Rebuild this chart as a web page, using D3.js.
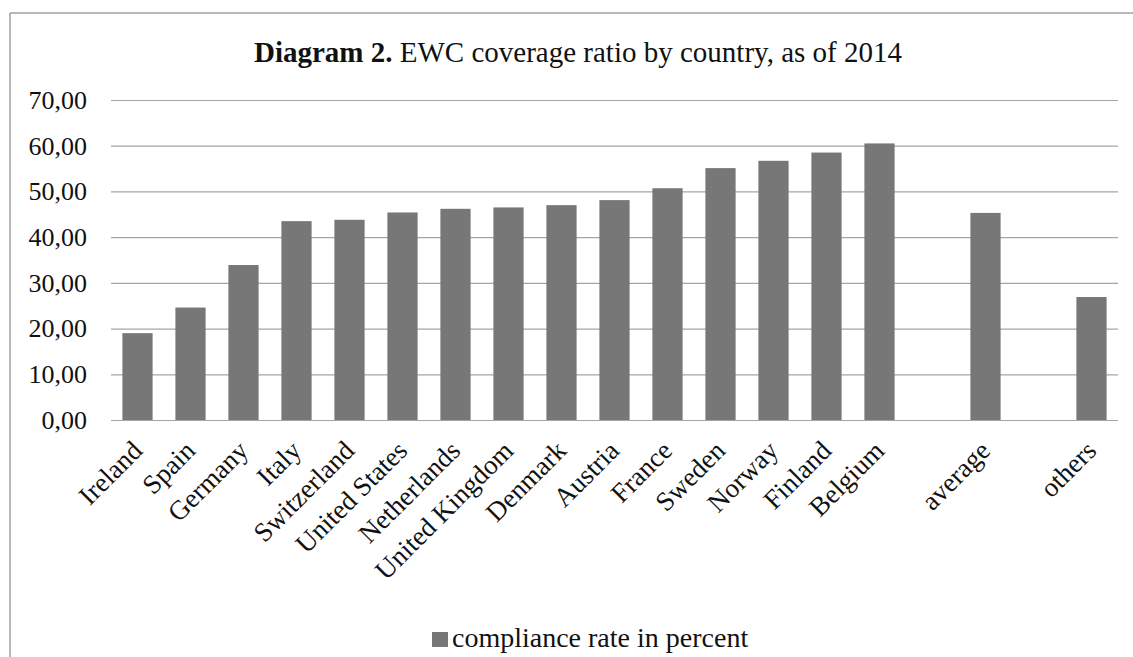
<!DOCTYPE html>
<html>
<head>
<meta charset="utf-8">
<script src="https://cdn.jsdelivr.net/npm/d3@7"></script>
<style>
  body { margin: 0; background: #fff; }
  text { font-family: "Liberation Serif", "Times New Roman", serif; fill: #111; }
</style>
</head>
<body>
<div id="chart"></div>
<script>
// data ("" = empty gap category)
var categories = ["Ireland", "Spain", "Germany", "Italy", "Switzerland", "United States",
  "Netherlands", "United Kingdom", "Denmark", "Austria", "France", "Sweden", "Norway",
  "Finland", "Belgium", "", "average", "", "others"];
var values = [19.0, 24.6, 33.9, 43.5, 43.8, 45.4, 46.2, 46.5, 47.0, 48.1, 50.7, 55.1,
  56.7, 58.5, 60.5, null, 45.3, null, 26.9];
var yTicks = [0, 10, 20, 30, 40, 50, 60, 70];
var seriesName = "compliance rate in percent";

var W = 1133, H = 657;
var margin = {top: 100, right: 15, bottom: 237, left: 111};
var width = W - margin.left - margin.right,
    height = H - margin.top - margin.bottom;

var svg = d3.select("#chart").append("svg")
  .attr("width", W).attr("height", H);

// frame around chart
svg.append("line").attr("x1", 10).attr("x2", W).attr("y1", 13).attr("y2", 13)
  .style("stroke", "#a0a0a0").style("stroke-width", 1.5);
svg.append("line").attr("x1", 10).attr("x2", 10).attr("y1", 13).attr("y2", H)
  .style("stroke", "#a0a0a0").style("stroke-width", 1.5);

// title
var title = svg.append("text").attr("x", 578).attr("y", 62)
  .attr("text-anchor", "middle").style("font-size", "29px");
title.append("tspan").style("font-weight", "bold").text("Diagram 2.");
title.append("tspan").text(" EWC coverage ratio by country, as of 2014");

var g = svg.append("g").attr("transform", "translate(" + margin.left + "," + margin.top + ")");

var x = d3.scaleBand().domain(d3.range(categories.length)).range([0, width])
  .paddingInner(0.43).paddingOuter(0.215);
var y = d3.scaleLinear().domain([0, 70]).range([height, 0]);

// gridlines + y labels
var yAxis = d3.axisLeft(y).tickValues(yTicks).tickSize(-width).tickPadding(24)
  .tickFormat(function(d) { return d3.format(".2f")(d).replace(".", ","); });
var ya = g.append("g").call(yAxis);
ya.select(".domain").remove();
ya.selectAll(".tick line").style("stroke", "#a6a6a6").style("stroke-width", 1.2);
ya.selectAll(".tick text").style("font-size", "26px").style("fill", "#111")
  .style("font-family", "'Liberation Serif', serif");

// bars
g.selectAll("rect.bar").data(values.map(function(v, i) { return {i: i, v: v}; })
    .filter(function(d) { return d.v != null; }))
  .enter().append("rect").attr("class", "bar")
  .attr("x", function(d) { return x(d.i); })
  .attr("width", x.bandwidth())
  .attr("y", function(d) { return y(d.v); })
  .attr("height", function(d) { return height - y(d.v); })
  .style("fill", "#777777");

// x labels, rotated
g.selectAll("text.xl").data(categories).enter().append("text").attr("class", "xl")
  .attr("transform", function(d, i) {
    return "translate(" + (x(i) + x.bandwidth() / 2 - 8) + "," + (height + 18) + ") rotate(-45)";
  })
  .attr("text-anchor", "end").attr("dy", "0.75em")
  .style("font-size", "27px")
  .text(function(d) { return d; });

// legend
svg.append("rect").attr("x", 432).attr("y", 632).attr("width", 16).attr("height", 15)
  .style("fill", "#777777");
svg.append("text").attr("x", 452).attr("y", 647).style("font-size", "28px").text(seriesName);
</script>
</body>
</html>
